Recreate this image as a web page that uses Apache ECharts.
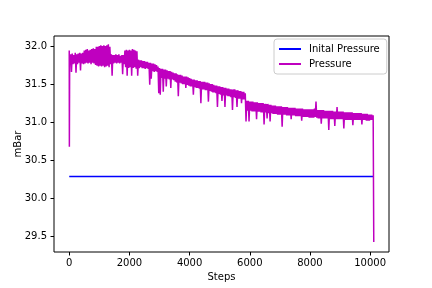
<!DOCTYPE html>
<html>
<head>
<meta charset="utf-8">
<script src="https://cdn.jsdelivr.net/npm/echarts@6/dist/echarts.min.js"></script>
<style>
html,body{margin:0;padding:0;background:#fff;}
#chart{width:432px;height:288px;}
</style>
</head>
<body>
<div id="chart"></div>
<script>
// Tick labels
const xTicks = [0, 2000, 4000, 6000, 8000, 10000];
const yTicks = [29.5, 30.0, 30.5, 31.0, 31.5, 32.0];

// Initial pressure (constant line)
const initialSteps = [0, 10120];
const initialPressure = [30.29, 30.29];

// Pressure readings
const steps = [
  0, 5, 15, 25, 50, 75, 100, 125, 150, 175, 200, 225, 250, 275, 300, 325, 350, 375, 400, 425, 450, 475,
  500, 525, 550, 575, 600, 625, 650, 675, 700, 725, 750, 775, 800, 825, 850, 875, 900, 925, 950, 975,
  1000, 1025, 1050, 1075, 1100, 1125, 1150, 1175, 1200, 1225, 1250, 1275, 1300, 1325, 1350, 1375, 1400, 1425, 1450, 1475,
  1500, 1525, 1550, 1575, 1600, 1625, 1650, 1675, 1700, 1725, 1750, 1775, 1800, 1825, 1850, 1875, 1900, 1925, 1950, 1975,
  2000, 2025, 2050, 2075, 2100, 2125, 2150, 2175, 2200, 2225, 2250, 2275, 2300, 2325, 2350, 2375, 2400, 2425, 2450, 2475,
  2500, 2525, 2550, 2575, 2600, 2625, 2650, 2675, 2700, 2725, 2750, 2775, 2800, 2825, 2850, 2875, 2900, 2925, 2950, 2975,
  3000, 3025, 3050, 3075, 3100, 3125, 3150, 3175, 3200, 3225, 3250, 3275, 3300, 3325, 3350, 3375, 3400, 3425, 3450, 3475,
  3500, 3525, 3550, 3575, 3600, 3625, 3650, 3675, 3700, 3725, 3750, 3775, 3800, 3825, 3850, 3875, 3900, 3925, 3950, 3975,
  4000, 4025, 4050, 4075, 4100, 4125, 4150, 4175, 4200, 4225, 4250, 4275, 4300, 4325, 4350, 4375, 4400, 4425, 4450, 4475,
  4500, 4525, 4550, 4575, 4600, 4625, 4650, 4675, 4700, 4725, 4750, 4775, 4800, 4825, 4850, 4875, 4900, 4925, 4950, 4975,
  5000, 5025, 5050, 5075, 5100, 5125, 5150, 5175, 5200, 5225, 5250, 5275, 5300, 5325, 5350, 5375, 5400, 5425, 5450, 5475,
  5500, 5525, 5550, 5575, 5600, 5625, 5650, 5675, 5700, 5725, 5750, 5775, 5800, 5825, 5850, 5875, 5900, 5925, 5950, 5975,
  6000, 6025, 6050, 6075, 6100, 6125, 6150, 6175, 6200, 6225, 6250, 6275, 6300, 6325, 6350, 6375, 6400, 6425, 6450, 6475,
  6500, 6525, 6550, 6575, 6600, 6625, 6650, 6675, 6700, 6725, 6750, 6775, 6800, 6825, 6850, 6875, 6900, 6925, 6950, 6975,
  7000, 7025, 7050, 7075, 7100, 7125, 7150, 7175, 7200, 7225, 7250, 7275, 7300, 7325, 7350, 7375, 7400, 7425, 7450, 7475,
  7500, 7525, 7550, 7575, 7600, 7625, 7650, 7675, 7700, 7725, 7750, 7775, 7800, 7825, 7850, 7875, 7900, 7925, 7950, 7975,
  8000, 8025, 8050, 8075, 8100, 8125, 8150, 8175, 8200, 8225, 8250, 8275, 8300, 8325, 8350, 8375, 8400, 8425, 8450, 8475,
  8500, 8525, 8550, 8575, 8600, 8625, 8650, 8675, 8700, 8725, 8750, 8775, 8800, 8825, 8850, 8875, 8900, 8925, 8950, 8975,
  9000, 9025, 9050, 9075, 9100, 9125, 9150, 9175, 9200, 9225, 9250, 9275, 9300, 9325, 9350, 9375, 9400, 9425, 9450, 9475,
  9500, 9525, 9550, 9575, 9600, 9625, 9650, 9675, 9700, 9725, 9750, 9775, 9800, 9825, 9850, 9875, 9900, 9925, 9950, 9975,
  10000, 10025, 10050, 10075, 10100, 10120
];
const pressure = [
  31.94, 30.68, 31.86, 31.77, 31.89, 31.66, 31.90, 31.76, 31.88, 31.77, 31.91, 31.65, 31.89, 31.76, 31.90, 31.78, 31.91, 31.68, 31.90, 31.77, 31.91, 31.76,
  31.94, 31.77, 31.95, 31.78, 31.96, 31.77, 31.94, 31.78, 31.95, 31.76, 31.96, 31.78, 31.97, 31.77, 31.96, 31.75, 31.99, 31.74, 31.99, 31.73,
  32.00, 31.74, 32.01, 31.73, 32.00, 31.74, 32.01, 31.72, 32.00, 31.73, 32.01, 31.74, 32.02, 31.72, 31.99, 31.76, 31.89, 31.61, 31.88, 31.77,
  31.88, 31.78, 31.89, 31.77, 31.88, 31.78, 31.89, 31.77, 31.87, 31.78, 31.88, 31.63, 31.88, 31.76, 31.94, 31.72, 31.95, 31.61, 31.94, 31.71,
  31.95, 31.72, 31.94, 31.61, 31.96, 31.71, 31.95, 31.72, 31.94, 31.70, 31.93, 31.61, 31.82, 31.71, 31.81, 31.72, 31.81, 31.71, 31.80, 31.71,
  31.80, 31.70, 31.79, 31.71, 31.79, 31.70, 31.78, 31.49, 31.78, 31.57, 31.77, 31.67, 31.77, 31.66, 31.76, 31.67, 31.75, 31.66, 31.73, 31.38,
  31.71, 31.36, 31.70, 31.58, 31.70, 31.40, 31.69, 31.57, 31.69, 31.47, 31.68, 31.57, 31.67, 31.56, 31.67, 31.45, 31.66, 31.56, 31.65, 31.55,
  31.64, 31.53, 31.64, 31.52, 31.63, 31.34, 31.62, 31.52, 31.62, 31.51, 31.61, 31.50, 31.60, 31.50, 31.60, 31.45, 31.60, 31.49, 31.59, 31.48,
  31.58, 31.47, 31.57, 31.47, 31.56, 31.36, 31.56, 31.46, 31.55, 31.45, 31.55, 31.45, 31.54, 31.44, 31.54, 31.25, 31.53, 31.43, 31.53, 31.43,
  31.53, 31.42, 31.52, 31.42, 31.52, 31.27, 31.51, 31.41, 31.50, 31.40, 31.50, 31.39, 31.49, 31.39, 31.48, 31.38, 31.48, 31.20, 31.47, 31.37,
  31.47, 31.36, 31.46, 31.28, 31.46, 31.35, 31.45, 31.20, 31.45, 31.35, 31.44, 31.34, 31.44, 31.34, 31.43, 31.33, 31.43, 31.16, 31.43, 31.33,
  31.43, 31.32, 31.42, 31.20, 31.42, 31.31, 31.41, 31.31, 31.41, 31.25, 31.40, 31.30, 31.40, 31.30, 31.38, 31.01, 31.28, 31.15, 31.28, 31.01,
  31.27, 31.15, 31.27, 31.14, 31.27, 31.14, 31.26, 31.14, 31.26, 31.04, 31.26, 31.14, 31.25, 31.14, 31.25, 31.13, 31.25, 31.13, 31.25, 30.97,
  31.24, 31.13, 31.24, 31.05, 31.24, 31.12, 31.23, 31.01, 31.23, 31.12, 31.22, 31.11, 31.22, 31.11, 31.22, 31.11, 31.21, 31.10, 31.21, 31.10,
  31.21, 31.10, 31.21, 30.94, 31.20, 31.10, 31.20, 31.10, 31.20, 31.09, 31.20, 31.09, 31.19, 31.09, 31.19, 31.04, 31.19, 31.09, 31.19, 31.09,
  31.19, 31.08, 31.18, 31.08, 31.18, 31.08, 31.18, 31.08, 31.18, 31.02, 31.18, 31.07, 31.17, 31.07, 31.17, 31.07, 31.17, 31.07, 31.17, 31.06,
  31.17, 31.06, 31.17, 31.06, 31.17, 31.06, 31.18, 31.07, 31.27, 31.06, 31.16, 31.05, 31.16, 31.05, 31.16, 30.98, 31.16, 31.05, 31.16, 31.05,
  31.15, 31.05, 31.15, 31.05, 31.15, 30.90, 31.15, 31.04, 31.15, 31.04, 31.15, 31.04, 31.14, 30.95, 31.14, 31.04, 31.20, 31.04, 31.14, 31.04,
  31.14, 31.04, 31.14, 31.04, 31.14, 30.92, 31.13, 31.03, 31.13, 31.03, 31.13, 31.03, 31.13, 31.03, 31.13, 31.03, 31.13, 30.96, 31.12, 31.03,
  31.12, 31.03, 31.12, 31.03, 31.12, 31.03, 31.12, 31.03, 31.12, 30.97, 31.11, 31.03, 31.11, 31.03, 31.11, 31.02, 31.11, 31.02, 31.10, 31.02,
  31.10, 31.03, 31.10, 31.03, 31.09, 29.43
];

const seriesNames = ['Inital Pressure', 'Pressure'];

const pairs = (xs, ys) => xs.map((x, i) => [x, ys[i]]);
const font = 'DejaVu Sans';

const chart = echarts.init(document.getElementById('chart'), null, {renderer: 'canvas'});
chart.setOption({
  animation: false,
  backgroundColor: '#ffffff',
  grid: {
    left: 54, right: 43, top: 36, bottom: 36,
    containLabel: false, outerBoundsMode: 'none',
    show: true, borderColor: '#000000', borderWidth: 1, backgroundColor: 'transparent'
  },
  legend: {
    orient: 'vertical',
    left: 274, top: 39,
    padding: [4, 7, 4, 5],
    itemGap: 3,
    itemWidth: 22, itemHeight: 2,
    icon: 'rect',
    backgroundColor: 'rgba(255,255,255,0.8)',
    borderColor: '#cccccc', borderWidth: 1, borderRadius: 3,
    textStyle: {fontFamily: font, fontSize: 10, color: '#000', lineHeight: 12, padding: [0, 0, 0, 3]},
    data: seriesNames
  },
  xAxis: {
    type: 'value',
    min: -506, max: 10626,
    name: 'Steps', nameLocation: 'middle', nameGap: 20, nameMoveOverlap: false,
    nameTextStyle: {fontFamily: font, fontSize: 10, color: '#000'},
    axisLine: {show: false, onZero: false},
    axisTick: {show: true, length: 3.5, lineStyle: {color: '#000', width: 1}, customValues: xTicks},
    axisLabel: {fontFamily: font, fontSize: 10, color: '#000', margin: 6, customValues: xTicks,
      formatter: v => String(v)},
    splitLine: {show: false}
  },
  yAxis: {
    type: 'value',
    min: 29.30, max: 32.13,
    name: 'mBar', nameLocation: 'middle', nameGap: 31, nameMoveOverlap: false,
    nameTextStyle: {fontFamily: font, fontSize: 10, color: '#000'},
    axisLine: {show: false, onZero: false},
    axisTick: {show: true, length: 3.5, lineStyle: {color: '#000', width: 1}, customValues: yTicks},
    axisLabel: {fontFamily: font, fontSize: 10, color: '#000', margin: 7,
      customValues: yTicks, formatter: v => v.toFixed(1)},
    splitLine: {show: false}
  },
  series: [
    {
      name: seriesNames[0], type: 'line', showSymbol: false, symbol: 'none',
      data: pairs(initialSteps, initialPressure),
      lineStyle: {color: '#0000ff', width: 1.5}, itemStyle: {color: '#0000ff'},
      z: 2
    },
    {
      name: seriesNames[1], type: 'line', showSymbol: false, symbol: 'none',
      sampling: 'none',
      data: pairs(steps, pressure),
      lineStyle: {color: '#bf00bf', width: 1.5}, itemStyle: {color: '#bf00bf'},
      z: 3
    }
  ]
});
</script>
</body>
</html>
